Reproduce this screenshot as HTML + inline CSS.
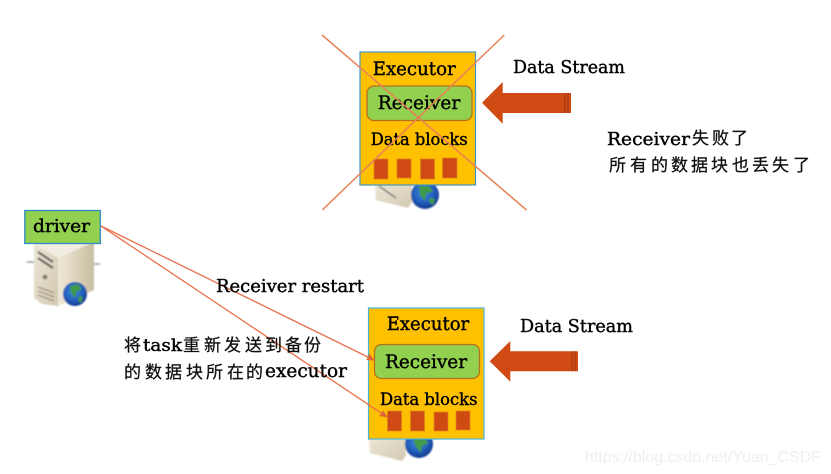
<!DOCTYPE html>
<html><head><meta charset="utf-8"><style>
html,body{margin:0;padding:0;background:#fff}
svg{display:block}
text{font-family:"DejaVu Serif","Liberation Serif","Noto Sans CJK SC",serif;fill:#000;stroke:#000;stroke-width:.4}
.c{font-family:"Liberation Sans","Noto Sans CJK SC",sans-serif;font-size:17px;fill:#111;stroke:#111;stroke-width:.25}
.w{font-family:"Liberation Sans",sans-serif;fill:#efefef;stroke:none}
</style></head><body>
<svg width="831" height="474" viewBox="0 0 831 474" xmlns="http://www.w3.org/2000/svg">
<defs>
<filter id="b" x="-5%" y="-20%" width="110%" height="140%"><feGaussianBlur stdDeviation="0.35"/></filter>
<filter id="s" x="-10%" y="-10%" width="120%" height="120%"><feGaussianBlur stdDeviation="0.7"/></filter>
<radialGradient id="g" cx="45%" cy="40%" r="60%"><stop offset="0" stop-color="#3f8fd0"/><stop offset=".6" stop-color="#2560c0"/><stop offset="1" stop-color="#123a90"/></radialGradient>
<linearGradient id="f" x1="0" x2="1" y1="0" y2="1"><stop offset="0" stop-color="#ece6d6"/><stop offset="1" stop-color="#d2c9b0"/></linearGradient>
<linearGradient id="d" x1="0" x2="1"><stop offset="0" stop-color="#efe9d8"/><stop offset="1" stop-color="#c8bd9f"/></linearGradient>
<marker id="a" markerWidth="8" markerHeight="8" refX="7" refY="3.5" orient="auto" markerUnits="userSpaceOnUse"><path d="M0 0L8 3.5L0 7z" fill="#e2663a"/></marker>
</defs>

<!-- driver server -->
<g filter="url(#s)">
<path d="M27 262H34M92 264H100" stroke="#999" stroke-width="1.500"/>
<path d="M34 242H94V260L58 262Z" fill="#f1ede2"/>
<path d="M58 258L94 242V290L58 306Z" fill="url(#d)"/>
<path d="M34 243L58 258V306L42 304L34 298Z" fill="url(#f)"/>
<path d="M38 252L53 262M38 258L53 268" stroke="#555" stroke-width="2"/>
<path d="M38 287L54 293M38 291L54 297M38 295L54 301" stroke="#887f6e" stroke-width="1"/>
<circle cx="45" cy="277" r="2.300" fill="#776"/>
<circle cx="75" cy="294" r="12" fill="url(#g)"/>
<path d="M70 286l8-2 4 5-6 3-1 6-4-5zM79 296l4 1-2 6-3-2z" fill="#3f9a4c"/>
</g>
<rect x="24.800" y="210.500" width="75.500" height="33" fill="#92d050" stroke="#2e8bc5" stroke-width="1.300"/>
<text x="33" y="232" font-size="18" textLength="57" lengthAdjust="spacingAndGlyphs" filter="url(#b)">driver</text>

<!-- top server -->
<g filter="url(#s)">
<path d="M375 185H412V202L408 208L376 200Z" fill="url(#f)"/>
<path d="M379 186L396 198" stroke="#777" stroke-width="1.500"/>
<circle cx="425" cy="195" r="14" fill="url(#g)"/>
<path d="M419 186h10l4 5-7 3-1 7-5-6zM430 198l5 1-2 6-4-3z" fill="#3f9a4c"/>
</g>
<!-- top executor -->
<rect x="360" y="52" width="115.500" height="133" fill="#ffc000" stroke="#3f97c9" stroke-width="1.200"/>
<rect x="367" y="86" width="105" height="34.500" rx="7" fill="#92d050" stroke="#b5701c" stroke-width="1.300"/>
<g fill="#d04a14" stroke="#e0801a" stroke-width=".7">
<rect x="374" y="159" width="14" height="20"/>
<rect x="397" y="159" width="14" height="19"/>
<rect x="420.500" y="159" width="14" height="20"/>
<rect x="442.500" y="158" width="14.500" height="20"/>
</g>
<text x="372.700" y="75" font-size="19" textLength="83" lengthAdjust="spacingAndGlyphs" filter="url(#b)">Executor</text>
<text x="377.700" y="109" font-size="19" textLength="82.500" lengthAdjust="spacingAndGlyphs" filter="url(#b)">Receiver</text>
<text x="370.700" y="145" font-size="16.500" textLength="97" lengthAdjust="spacingAndGlyphs" filter="url(#b)">Data blocks</text>
<path d="M322 35L526.500 210M504.300 35L322.300 210" stroke="#ea8058" stroke-width="1.500" fill="none"/>
<path d="M482 102.700L502.700 82V93H571V113H502.700V123.700Z" fill="#d04a14"/>
<path d="M565 93V113M568 93V113" stroke="#a83a10" stroke-width="1.200"/>
<text x="513" y="73" font-size="18" textLength="112" lengthAdjust="spacingAndGlyphs" filter="url(#b)">Data Stream</text>

<!-- right text -->
<text x="607" y="145" font-size="18" textLength="83" lengthAdjust="spacingAndGlyphs" filter="url(#b)">Receiver</text>
<text class="c" y="144" filter="url(#b)" x="692 712 731">失败了</text>
<text class="c" y="171" filter="url(#b)" x="609 630 651 671 691 711 732 752 772 793">所有的数据块也丢失了</text>

<!-- bottom server -->
<g filter="url(#s)">
<path d="M369 439H406V456L402 461L370 453Z" fill="url(#f)"/>
<circle cx="419" cy="444" r="14" fill="url(#g)"/>
<path d="M413 439h12l4 4-7 3-1 7-5-6z" fill="#3f9a4c"/>
</g>
<!-- bottom executor -->
<rect x="368.500" y="308" width="115.500" height="131" fill="#ffc000" stroke="#45b5dc" stroke-width="1.200"/>
<rect x="374.500" y="344.500" width="105" height="34" rx="7" fill="#92d050" stroke="#b5701c" stroke-width="1.300"/>
<g fill="#d04a14" stroke="#e0801a" stroke-width=".7">
<rect x="387.500" y="411" width="14" height="20"/>
<rect x="410.500" y="411" width="14" height="20"/>
<rect x="434" y="412" width="14" height="19"/>
<rect x="456" y="411" width="14" height="19"/>
</g>
<text x="386.700" y="330" font-size="19" textLength="82.500" lengthAdjust="spacingAndGlyphs" filter="url(#b)">Executor</text>
<text x="385" y="368" font-size="19" textLength="82" lengthAdjust="spacingAndGlyphs" filter="url(#b)">Receiver</text>
<text x="380" y="405" font-size="16.500" textLength="97.500" lengthAdjust="spacingAndGlyphs" filter="url(#b)">Data blocks</text>
<path d="M489.700 361.300L510.300 341V351.300H578V371.300H510.300V381.700Z" fill="#d04a14"/>
<path d="M572 351.300V371.300M575 351.300V371.300" stroke="#a83a10" stroke-width="1.200"/>
<text x="520" y="332" font-size="18" textLength="113" lengthAdjust="spacingAndGlyphs" filter="url(#b)">Data Stream</text>

<!-- connectors -->
<path d="M101 226L374 360" stroke="#e8704a" stroke-width="1.300" fill="none" marker-end="url(#a)"/>
<path d="M101 226L387 417" stroke="#e8704a" stroke-width="1.300" fill="none" marker-end="url(#a)"/>

<text x="216" y="292" font-size="18" textLength="148" lengthAdjust="spacingAndGlyphs" filter="url(#b)">Receiver restart</text>
<text class="c" x="124" y="351" filter="url(#b)">将</text>
<text x="143" y="351" font-size="17" textLength="39" lengthAdjust="spacingAndGlyphs" filter="url(#b)">task</text>
<text class="c" y="351" filter="url(#b)" x="183 204 224 245 265 285 304">重新发送到备份</text>
<text class="c" y="378" filter="url(#b)" x="124 145 165 186 206 227 246">的数据块所在的</text>
<text x="265" y="377" font-size="17.500" textLength="82" lengthAdjust="spacingAndGlyphs" filter="url(#b)">executor</text>

<text class="w" x="585" y="462" textLength="236" lengthAdjust="spacingAndGlyphs" font-size="16">https://blog.csdn.net/Yuan_CSDF</text>
</svg>
</body></html>
